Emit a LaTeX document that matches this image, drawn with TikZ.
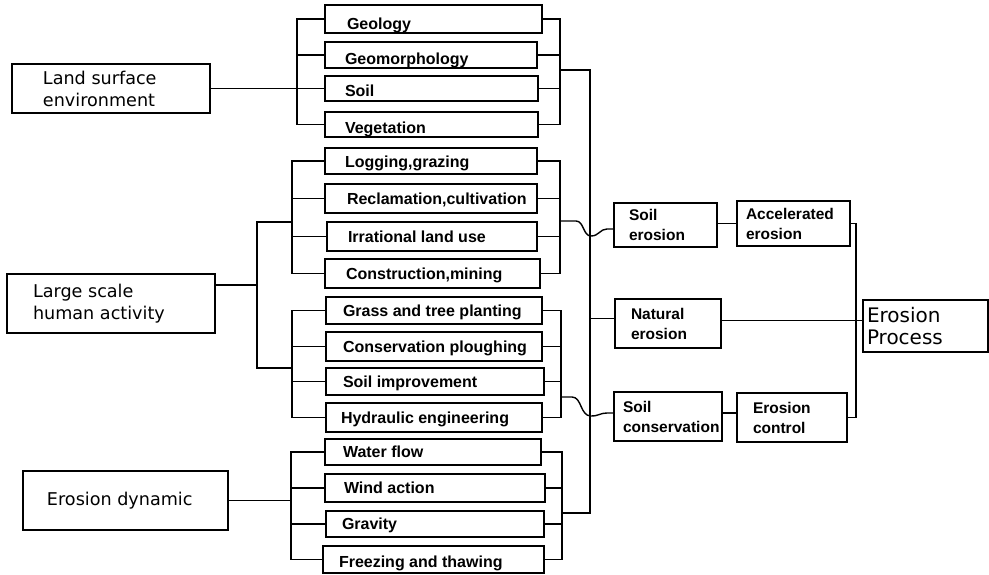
\documentclass[tikz,border=0pt]{standalone}
\usepackage{fontspec}
\setmainfont{Liberation Sans}
\newfontfamily\dvs{DejaVu Sans}
\newcommand\ltxt[3]{\makebox[#1][l]{\hspace*{#2}#3}}
\newcommand\boxtxt[3]{\parbox{#1}{\raggedright\leftskip=#2\relax #3}}
\begin{document}
\begin{tikzpicture}[x=1pt,y=-1pt,
  base/.style={draw, inner sep=0pt, outer sep=0pt, line width=1.4pt},
  mb/.style={base, font=\fontsize{16}{20}\selectfont\bfseries, text height=11.4pt, text depth=0pt},
  rb/.style={base, font=\fontsize{15.5}{20}\selectfont\bfseries},
  lb/.style={base, font=\dvs\fontsize{17.6}{22}\selectfont},
  conn/.style={line width=1.4pt}]
\useasboundingbox (0,0) rectangle (989,574);
% middle column
\node[mb, minimum width=217pt, minimum height=28pt, text height=21.4pt] (geol) at (433.5,19) {\ltxt{217pt}{22pt}{Geology}};
\node[mb, minimum width=212pt, minimum height=26pt, text height=19.4pt] (geom) at (431,55) {\ltxt{212pt}{20pt}{Geomorphology}};
\node[mb, minimum width=213pt, minimum height=25pt, text height=16.4pt] (soil) at (431.5,88.5) {\ltxt{213pt}{20pt}{Soil}};
\node[mb, minimum width=213pt, minimum height=25pt, text height=17.4pt] (veg) at (431.5,124.5) {\ltxt{213pt}{20pt}{Vegetation}};
\node[mb, minimum width=212pt, minimum height=26pt, text height=13.4pt] (log) at (431,161) {\ltxt{212pt}{20pt}{Logging,grazing}};
\node[mb, minimum width=212pt, minimum height=29pt, text height=12.4pt] (rec) at (431,198.5) {\ltxt{212pt}{22pt}{Reclamation,cultivation}};
\node[mb, minimum width=210pt, minimum height=29pt] (irr) at (432,236.5) {\ltxt{210pt}{21pt}{Irrational land use}};
\node[mb, minimum width=215pt, minimum height=29pt] (con) at (432.5,273.5) {\ltxt{215pt}{21pt}{Construction,mining}};
\node[mb, minimum width=216pt, minimum height=27pt] (grass) at (434,310.5) {\ltxt{216pt}{17pt}{Grass and tree planting}};
\node[mb, minimum width=216pt, minimum height=29pt] (cons) at (434,346.5) {\ltxt{216pt}{17pt}{Conservation ploughing}};
\node[mb, minimum width=218pt, minimum height=27pt] (simp) at (435,381.5) {\ltxt{218pt}{17pt}{Soil improvement}};
\node[mb, minimum width=216pt, minimum height=29pt] (hyd) at (434,417.5) {\ltxt{216pt}{15pt}{Hydraulic engineering}};
\node[mb, minimum width=216pt, minimum height=26pt] (wat) at (433,452) {\ltxt{216pt}{18pt}{Water flow}};
\node[mb, minimum width=220pt, minimum height=28pt] (wind) at (435,488) {\ltxt{220pt}{19pt}{Wind action}};
\node[mb, minimum width=218pt, minimum height=26pt] (grav) at (435,524) {\ltxt{218pt}{16pt}{Gravity}};
\node[mb, minimum width=221pt, minimum height=27pt, text height=15.4pt] (frz) at (433.5,559.5) {\ltxt{221pt}{16pt}{Freezing and thawing}};
% left column
\node[lb, minimum width=198pt, minimum height=49pt] (lse) at (111,88.5) {\boxtxt{198pt}{31pt}{Land surface\\environment}};
\node[lb, minimum width=208pt, minimum height=59pt] (lsh) at (111,303.5) {\boxtxt{208pt}{26pt}{Large scale\\human activity}};
\node[lb, minimum width=205pt, minimum height=59pt] (ed) at (125.5,500.5) {\boxtxt{205pt}{24pt}{Erosion dynamic}};
% right part
\node[rb, minimum width=103pt, minimum height=44pt] (se) at (665.5,225) {\boxtxt{103pt}{15pt}{Soil\\erosion}};
\node[rb, minimum width=113pt, minimum height=45pt] (ae) at (793.5,223.5) {\boxtxt{113pt}{9pt}{Accelerated\\erosion}};
\node[rb, minimum width=106pt, minimum height=49pt] (nat) at (668,323.5) {\boxtxt{106pt}{16pt}{Natural\\erosion}};
\node[rb, minimum width=108pt, minimum height=49pt] (sc) at (668,416.5) {\boxtxt{108pt}{9pt}{Soil\\conservation}};
\node[rb, minimum width=110pt, minimum height=49pt] (ec) at (792,417.5) {\boxtxt{110pt}{16pt}{Erosion\\control}};
\node[base, font=\dvs\fontsize{20}{22}\selectfont, minimum width=125pt, minimum height=52pt] (ep) at (925.5,326) {\boxtxt{125pt}{4pt}{Erosion\\Process}};
% helper coordinates
\coordinate (L1) at (297,0); \coordinate (L2) at (292,0); \coordinate (L3) at (292,0); \coordinate (L4) at (291,0);
\coordinate (R1) at (560,0); \coordinate (R2) at (560,0); \coordinate (R3) at (561,0); \coordinate (R4) at (562,0);
\coordinate (o1) at (560,70); \coordinate (o2) at (560,221); \coordinate (o3) at (561,397); \coordinate (o4) at (562,513);
\coordinate (vt) at (590,70); \coordinate (vb) at (590,513);
\coordinate (h1) at (257,222); \coordinate (h2) at (257,368);
\coordinate (F) at (856,0);
\coordinate (lshout) at ([yshift=18.5pt]lsh.east);
\coordinate (sein) at ([yshift=-4pt]se.west);
\coordinate (scin) at ([yshift=3.5pt]sc.west);
\coordinate (scout) at ([yshift=3.5pt]sc.east);
\coordinate (natin) at ([yshift=5pt]nat.west);
\coordinate (natout) at ([yshift=3pt]nat.east);
% group 1
\draw[conn] (geol.west) -- (geol.west -| L1) -- (veg.west -| L1) -- (veg.west);
\foreach \n in {geom,soil} \draw[conn] (\n.west) -- (\n.west -| L1);
\draw[conn] (lse.east) -- (lse.east -| L1);
\draw[conn] (geol.east) -- (geol.east -| R1) -- (veg.east -| R1) -- (veg.east);
\foreach \n in {geom,soil} \draw[conn] (\n.east) -- (\n.east -| R1);
\draw[conn] (o1) -- (vt) -- (vb) -- (o4);
% group 2
\draw[conn] (log.west) -- (log.west -| L2) -- (con.west -| L2) -- (con.west);
\foreach \n in {rec,irr} \draw[conn] (\n.west) -- (\n.west -| L2);
\draw[conn] (log.east) -- (log.east -| R2) -- (con.east -| R2) -- (con.east);
\foreach \n in {rec,irr} \draw[conn] (\n.east) -- (\n.east -| R2);
\draw[conn] (lshout) -- (lshout -| h1);
\draw[conn] (h1 -| L2) -- (h1) -- (h2) -- (h2 -| L3);
% group 3
\draw[conn] (grass.west) -- (grass.west -| L3) -- (hyd.west -| L3) -- (hyd.west);
\foreach \n in {cons,simp} \draw[conn] (\n.west) -- (\n.west -| L3);
\draw[conn] (grass.east) -- (grass.east -| R3) -- (hyd.east -| R3) -- (hyd.east);
\foreach \n in {cons,simp} \draw[conn] (\n.east) -- (\n.east -| R3);
% group 4
\draw[conn] (wat.west) -- (wat.west -| L4) -- (frz.west -| L4) -- (frz.west);
\foreach \n in {wind,grav} \draw[conn] (\n.west) -- (\n.west -| L4);
\draw[conn] (ed.east) -- (ed.east -| L4);
\draw[conn] (wat.east) -- (wat.east -| R4) -- (frz.east -| R4) -- (frz.east);
\foreach \n in {wind,grav} \draw[conn] (\n.east) -- (\n.east -| R4);
% hops to the right column
\draw[conn] (o2) -- (576,221) .. controls (584,221) and (583,236) .. (591,236) .. controls (599,236) and (600,229) .. (607,229) -- (sein);
\draw[conn] (o3) -- (572,397) .. controls (582,397) and (580,416) .. (591,416) .. controls (599,416) and (600,413) .. (607,413) -- (scin);
\draw[conn] (natin -| vt) -- (natin);
% right side
\draw[conn] (ae.west -| se.east) -- (ae.west);
\draw[conn] (scout) -- (scout -| ec.west);
\draw[conn] (ae.east) -- (ae.east -| F) -- (ec.east -| F) -- (ec.east);
\draw[conn] (natout) -- (natout -| ep.west);
\end{tikzpicture}
\end{document}
